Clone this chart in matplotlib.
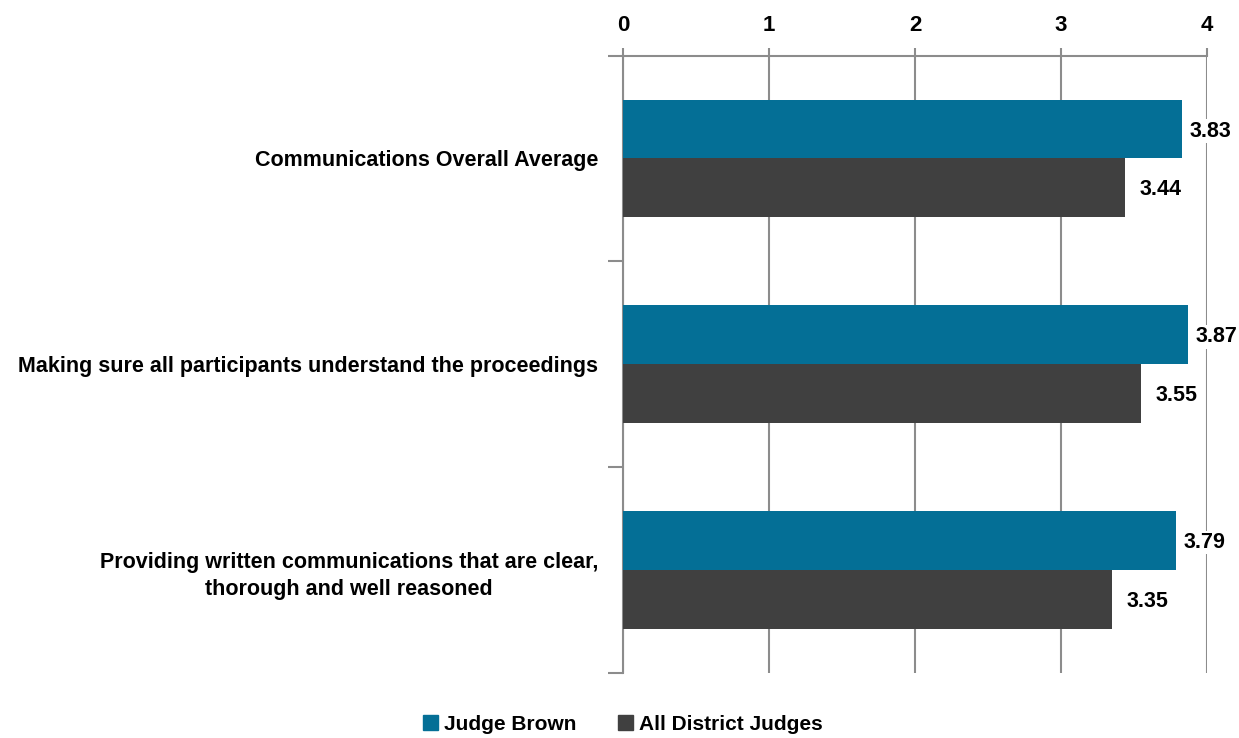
import numpy as np
import matplotlib.pyplot as plt

categories = ["Communications Overall Average",
              "Making sure all participants understand the proceedings",
              "Providing written communications that are clear,\nthorough and well reasoned"]
judge_brown = [3.83, 3.87, 3.79]
all_district = [3.44, 3.55, 3.35]
series_names = ["Judge Brown", "All District Judges"]
xticks = [0, 1, 2, 3, 4]

plt.rcParams['font.family'] = ['Liberation Sans Narrow', 'Liberation Sans', 'DejaVu Sans']
plt.rcParams['font.weight'] = 'bold'

teal = '#046f96'
dark = '#404040'
gridc = '#8c8c8c'

fig = plt.figure(figsize=(12.39, 7.38), dpi=100)
ax = fig.add_axes([623/1239, 1 - 673/738, (1207 - 623)/1239, (673 - 55.5)/738])

y = np.arange(len(categories))
h = 0.286
ax.barh(y - h/2, judge_brown, height=h, color=teal, zorder=3)
ax.barh(y + h/2, all_district, height=h, color=dark, zorder=3)

for yi, v in zip(y - h/2, judge_brown):
    ax.text(v + 0.05, yi + 0.01, f"{v:.2f}", va='center', ha='left', fontsize=15.5,
            fontweight='bold', zorder=4,
            bbox=dict(facecolor='white', edgecolor='none', pad=1))
for yi, v in zip(y + h/2, all_district):
    ax.text(v + 0.1, yi + 0.01, f"{v:.2f}", va='center', ha='left', fontsize=15.5,
            fontweight='bold', zorder=4,
            bbox=dict(facecolor='white', edgecolor='none', pad=1))

ax.set_xlim(0, 4)
ax.set_ylim(2.5, -0.5)
ax.xaxis.tick_top()
ax.set_xticks(xticks)
ax.set_xticklabels([str(t) for t in xticks], fontsize=16, fontweight='bold')
ax.tick_params(axis='x', direction='out', length=6, width=1.5, color=gridc, pad=8)
ax.grid(axis='x', color=gridc, linewidth=1.5, zorder=0)

ax.set_yticks(y)
ax.set_yticklabels(categories, fontsize=15.5, fontweight='bold',
                   multialignment='center', linespacing=1.4)
ax.tick_params(axis='y', which='major', length=0, pad=18)
ax.set_yticks([-0.5, 0.5, 1.5, 2.5], minor=True)
ax.tick_params(axis='y', which='minor', direction='out', length=11, width=1.5, color=gridc)

for s in ['right', 'bottom']:
    ax.spines[s].set_visible(False)
for s in ['top', 'left']:
    ax.spines[s].set_color(gridc)
    ax.spines[s].set_linewidth(1.5)

handles = [plt.Rectangle((0, 0), 1, 1, color=teal), plt.Rectangle((0, 0), 1, 1, color=dark)]
fig.legend(handles, series_names, loc='center', bbox_to_anchor=(623/1239, 1 - 724/738),
           ncol=2, frameon=False, handlelength=0.7, handleheight=0.7,
           handletextpad=0.3, columnspacing=2.0, prop={'weight': 'bold', 'size': 15})

fig.savefig('out.png', dpi=100, facecolor='white')
